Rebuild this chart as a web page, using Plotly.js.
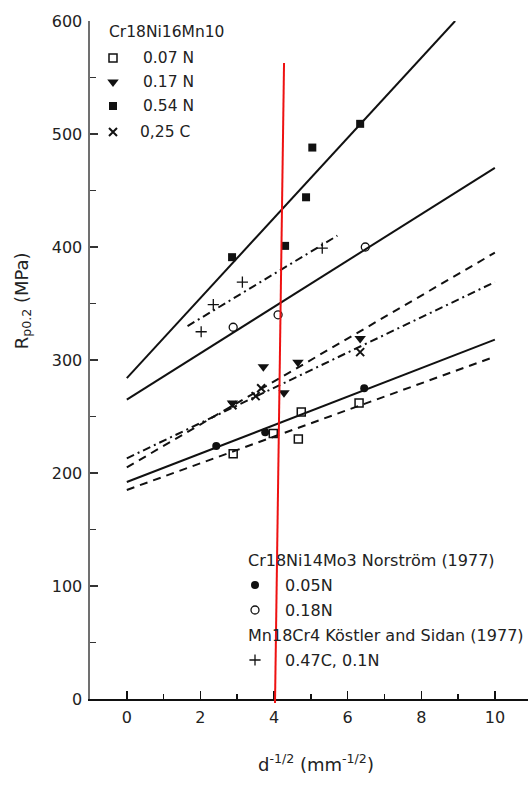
<!DOCTYPE html>
<html>
<head>
<meta charset="utf-8">
<script src="https://cdn.plot.ly/plotly-3.0.1.min.js"></script>
<style>
  html, body { margin: 0; padding: 0; background: #fff; }
  #chart { width: 528px; height: 788px; }
</style>
</head>
<body>
<div id="chart"></div>
<script>
// Yield strength Rp0.2 against inverse square root of grain size (Hall-Petch)

// Cr18Ni16Mn10 series
const x07N = [2.89, 3.98, 4.66, 4.74, 6.31];
const y07N = [217, 235, 230, 254, 262];
const x17N = [2.87, 3.71, 4.27, 4.65, 6.34];
const y17N = [262, 294, 271, 298, 319];
const x54N = [2.86, 4.30, 4.87, 5.04, 6.34];
const y54N = [391, 401, 444, 488, 509];
const x25C = [2.87, 3.50, 3.65, 6.34];
const y25C = [260, 268, 275, 307];

// Cr18Ni14Mo3 (Norström 1977)
const x05N = [2.43, 3.76, 6.45];
const y05N = [224, 236, 275];
const x18N = [2.89, 4.11, 6.48];
const y18N = [329, 340, 400];

// Mn18Cr4 (Köstler and Sidan 1977)
const x47C = [2.02, 2.35, 3.14, 5.31];
const y47C = [325, 349, 369, 399];

// Hall-Petch fit lines (end points)
const fit54N_x = [0, 8.92],  fit54N_y = [284, 600];
const fit18N_x = [0, 10],    fit18N_y = [265, 470];
const fit47C_x = [1.65, 5.72], fit47C_y = [330, 410];
const fit17N_x = [0, 10],    fit17N_y = [205, 395];
const fit25C_x = [0, 10],    fit25C_y = [213, 369];
const fit05N_x = [0, 10],    fit05N_y = [192, 318];
const fit07N_x = [0, 10],    fit07N_y = [185, 303];

// Axis ticks
const xTicks = [0, 2, 4, 6, 8, 10];
const yTicks = [0, 100, 200, 300, 400, 500, 600];

// Legend entries
const legendTop = {
  title: 'Cr18Ni16Mn10',
  labels: ['0.07 N', '0.17 N', '0.54 N', '0,25 C']
};
const legendBottom = {
  title1: 'Cr18Ni14Mo3 Norström (1977)',
  labels1: ['0.05N', '0.18N'],
  title2: 'Mn18Cr4 Köstler and Sidan (1977)',
  labels2: ['0.47C, 0.1N']
};

const INK = '#111';
const FONT = 'DejaVu Sans, sans-serif';

const sym = {
  n07: {symbol: 'square-open', size: 8, color: INK, line: {width: 1.5, color: INK}},
  n17: {symbol: 'triangle-down', size: 10, color: INK},
  n54: {symbol: 'square', size: 8, color: INK},
  c25: {symbol: 'x-thin', size: 8, color: INK, line: {width: 2, color: INK}},
  n05: {symbol: 'circle', size: 8, color: INK},
  n18: {symbol: 'circle-open', size: 8, color: INK, line: {width: 1.3, color: INK}},
  c47: {symbol: 'cross-thin', size: 8, color: INK, line: {width: 1.3, color: INK}}
};

function fit(x, y, dash) {
  return {x: x, y: y, mode: 'lines', type: 'scatter', hoverinfo: 'skip',
          line: {color: INK, width: 2, dash: dash}};
}
function pts(x, y, m) {
  return {x: x, y: y, mode: 'markers', type: 'scatter', marker: m, cliponaxis: false};
}

const traces = [
  fit(fit54N_x, fit54N_y, 'solid'),
  fit(fit18N_x, fit18N_y, 'solid'),
  fit(fit47C_x, fit47C_y, '8px,4px,2px,4px'),
  fit(fit17N_x, fit17N_y, '8px,6px'),
  fit(fit25C_x, fit25C_y, '8px,4px,2px,4px'),
  fit(fit05N_x, fit05N_y, 'solid'),
  fit(fit07N_x, fit07N_y, '8px,6px'),
  pts(x07N, y07N, sym.n07),
  pts(x17N, y17N, sym.n17),
  pts(x54N, y54N, sym.n54),
  pts(x25C, y25C, sym.c25),
  pts(x05N, y05N, sym.n05),
  pts(x18N, y18N, sym.n18),
  pts(x47C, y47C, sym.c47)
];

// Legend keys live on a pixel-space overlay (x2/y2)
const topRows = [58, 82, 106, 132];
const topKeys = [sym.n07, sym.n17, sym.n54, sym.c25];
topKeys.forEach(function (m, i) {
  traces.push({x: [113], y: [topRows[i]], xaxis: 'x2', yaxis: 'y2', mode: 'markers',
               type: 'scatter', marker: m, cliponaxis: false, hoverinfo: 'skip'});
});
const botRows1 = [585, 610];
[sym.n05, sym.n18].forEach(function (m, i) {
  traces.push({x: [255], y: [botRows1[i]], xaxis: 'x2', yaxis: 'y2', mode: 'markers',
               type: 'scatter', marker: m, cliponaxis: false, hoverinfo: 'skip'});
});
traces.push({x: [255], y: [660], xaxis: 'x2', yaxis: 'y2', mode: 'markers',
             type: 'scatter', marker: sym.c47, cliponaxis: false, hoverinfo: 'skip'});

function label(text, x, y, size, extra) {
  return Object.assign({text: text, x: x, y: y, xref: 'x2', yref: 'y2',
    xanchor: 'left', yanchor: 'middle', showarrow: false,
    font: {family: FONT, size: size, color: '#222'}}, extra || {});
}

const annotations = [
  label(legendTop.title, 107, 32, 15.5),
  label(legendTop.labels[0], 141, topRows[0], 15.5),
  label(legendTop.labels[1], 141, topRows[1], 15.5),
  label(legendTop.labels[2], 141, topRows[2], 15.5),
  label(legendTop.labels[3], 138, topRows[3], 15.5),
  label(legendBottom.title1, 246, 560, 16),
  label(legendBottom.labels1[0], 283, botRows1[0], 16),
  label(legendBottom.labels1[1], 283, botRows1[1], 16),
  label(legendBottom.title2, 246, 635, 16),
  label(legendBottom.labels2[0], 283, 660, 16),
  // axis titles, placed in paper space outside the plot area
  label('R<sub>p0.2</sub> (MPa)', -0.153, 0.588, 18,
        {xref: 'paper', yref: 'paper', xanchor: 'center', textangle: -90}),
  label('d<sup>-1/2</sup> (mm<sup>-1/2</sup>)', 0.516, -0.094, 18,
        {xref: 'paper', yref: 'paper', xanchor: 'center'})
];

const layout = {
  width: 528, height: 788,
  margin: {l: 90, r: 0, t: 21, b: 89},
  paper_bgcolor: '#fff', plot_bgcolor: 'rgba(0,0,0,0)',
  showlegend: false,
  xaxis: {
    range: [-1, 10.9], showgrid: false, zeroline: false,
    showline: true, linecolor: INK, linewidth: 1.5,
    tickmode: 'array', tickvals: xTicks,
    ticks: 'inside', ticklen: 8, tickwidth: 1.5, tickcolor: INK,
    minor: {dtick: 1, tick0: 0, ticks: 'inside', ticklen: 5, tickwidth: 1.5, tickcolor: INK},
    ticklabelstandoff: 3,
    tickfont: {family: FONT, size: 16, color: '#222'}
  },
  yaxis: {
    range: [0, 600], showgrid: false, zeroline: false,
    showline: true, linecolor: '#707070', linewidth: 2.5,
    tickmode: 'array', tickvals: yTicks,
    ticks: 'inside', ticklen: 8, tickwidth: 1.5, tickcolor: '#333',
    minor: {dtick: 50, tick0: 0, ticks: 'inside', ticklen: 6, tickwidth: 1.5, tickcolor: '#333'},
    ticklabelstandoff: 2,
    tickfont: {family: FONT, size: 16, color: '#222'}
  },
  xaxis2: {overlaying: 'x', range: [90, 528], visible: false, fixedrange: true},
  yaxis2: {overlaying: 'y', range: [699, 21], visible: false, fixedrange: true},
  annotations: annotations,
  shapes: [
    // red reference marker near d^-1/2 = 4
    {type: 'line', xref: 'paper', yref: 'paper',
     x0: 0.443, y0: 0.938, x1: 0.4224, y1: -0.006,
     line: {color: '#ee1111', width: 2}}
  ]
};

Plotly.newPlot('chart', traces, layout, {staticPlot: true, displayModeBar: false});
</script>
</body>
</html>
